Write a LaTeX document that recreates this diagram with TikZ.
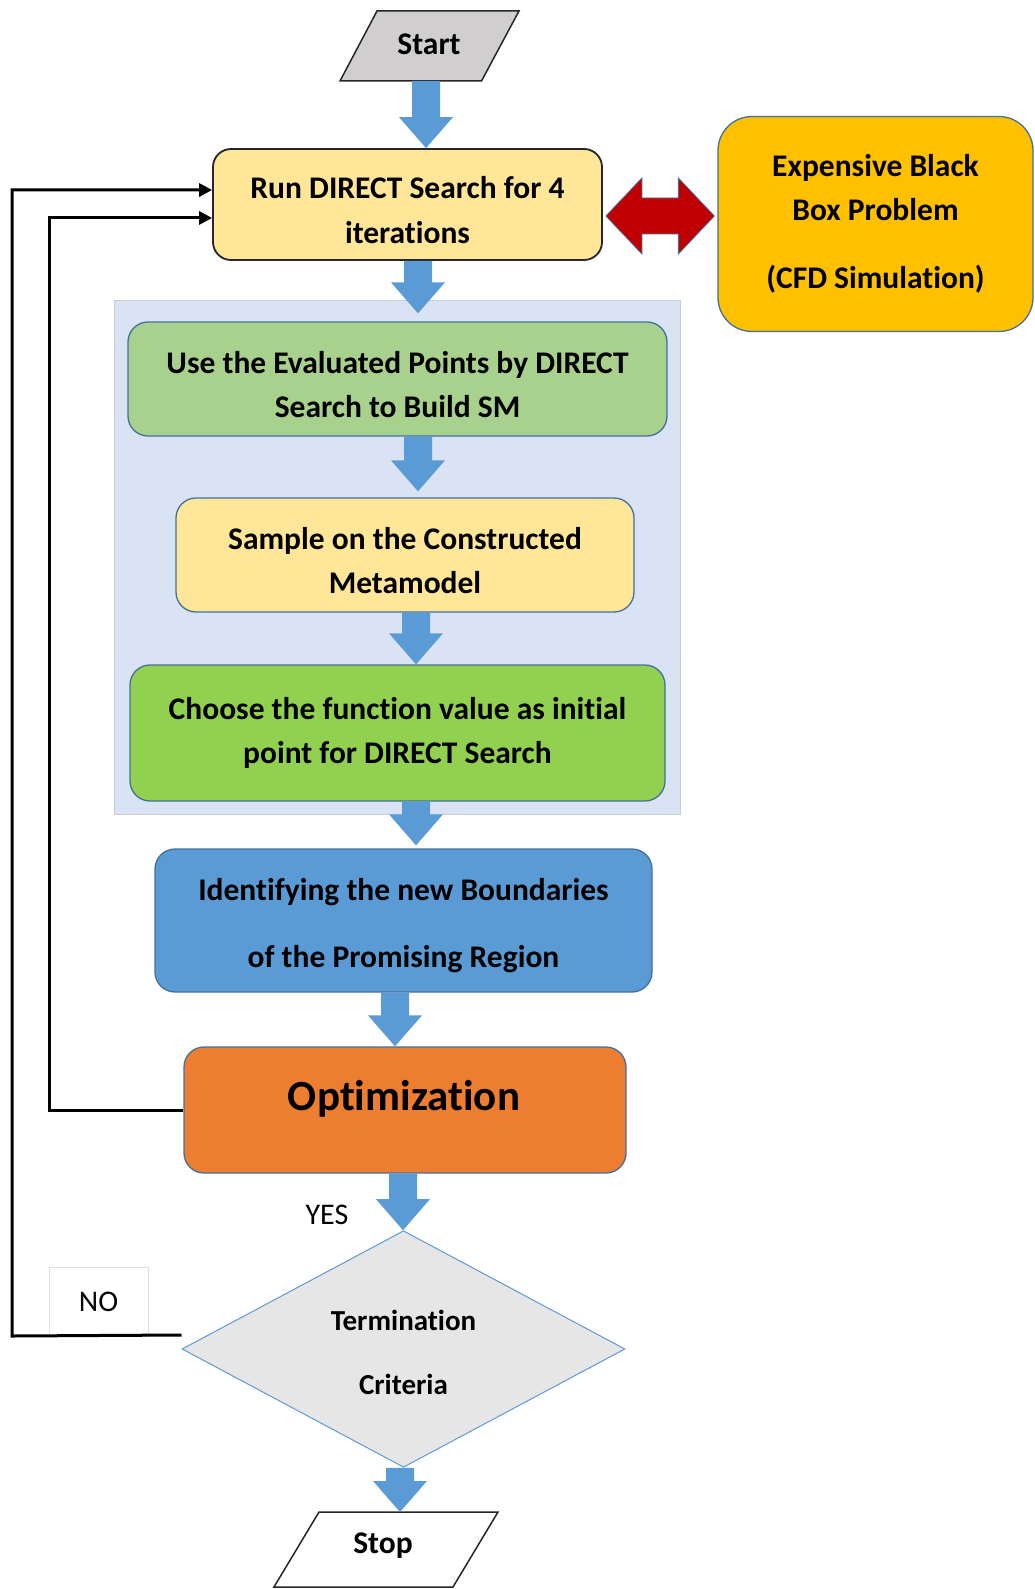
\documentclass[tikz,border=0pt]{standalone}
\usepackage{fontspec}
\setmainfont[Ligatures=NoCommon]{Carlito}
\usetikzlibrary{shapes.geometric,arrows.meta,calc}

\definecolor{flowblue}{HTML}{5B9BD5}
\definecolor{boxedge}{HTML}{41719C}
\definecolor{darkedge}{HTML}{262626}
\definecolor{paleyellow}{HTML}{FFE699}
\definecolor{gold}{HTML}{FFC000}
\definecolor{palegreen}{HTML}{A9D18E}
\definecolor{limegreen}{HTML}{92D050}
\definecolor{orangebox}{HTML}{ED7D31}
\definecolor{lightgrey}{HTML}{E7E6E6}
\definecolor{midgrey}{HTML}{D0CECE}
\definecolor{panelfill}{HTML}{DAE3F3}
\definecolor{panelline}{HTML}{C9CED6}
\definecolor{darkred}{HTML}{C00000}

\newcommand\bodyfont{\fontsize{31.5}{44.5}\selectfont\bfseries}
% a tall invisible strut that sets the text block a little lower in its box
\newcommand\lowstrut{\rule{0pt}{33pt}}

% wide blue block arrow: #1 gives the x position, #2 the start, #3 the tip
\newcommand\flowarrow[3]{%
  \fill[flowblue] let \p1=#1, \p2=#2, \p3=#3 in
    (\x1-14pt,\y2) -- (\x1+14pt,\y2) -- (\x1+14pt,\y3+31pt) -- (\x1+27pt,\y3+31pt)
    -- (\x1,\y3) -- (\x1-27pt,\y3+31pt) -- (\x1-14pt,\y3+31pt) -- cycle;}

\begin{document}
\begin{tikzpicture}[x=1pt,y=-1pt,
  box/.style={rounded corners=20pt, draw=boxedge, line width=1.3pt, align=center,
    inner sep=0pt, font=\bodyfont},
  plainlabel/.style={inner sep=0pt, font=\fontsize{30}{36}\selectfont},
  loopline/.style={line width=3pt, black, -{Triangle[length=13pt,width=13pt]}}]
\useasboundingbox (0,0) rectangle (1034,1589);

% start terminal
\filldraw[fill=midgrey, draw=darkedge, line width=1.5pt]
  (340,81) -- (377,11) -- (519,11) -- (481.5,81) -- cycle;
\node[inner sep=0pt, font=\bodyfont] (start) at (429,44) {Start};
\coordinate (startbase) at (429,81);

% first DIRECT run and the simulation it calls
\node[box, fill=paleyellow, draw=darkedge, line width=1.8pt, rounded corners=18pt,
  minimum width=389, minimum height=111] (run) at (407.5,204.5)
  {\lowstrut Run DIRECT Search for 4\\iterations};
\node[box, fill=gold, rounded corners=34pt, minimum width=315, minimum height=215]
  (exp) at (875.5,224) {Expensive Black\\Box Problem\\[23.5pt](CFD Simulation)};

\coordinate (dblmid) at (660,216);
\filldraw[fill=darkred, draw=boxedge, line width=0.8pt]
  let \p1=([xshift=3pt]run.east), \p2=([xshift=-3pt]exp.west), \p3=(dblmid) in
  (\x1,\y3) -- (\x1+36pt,\y3+38pt) -- (\x1+36pt,\y3+18pt) -- (\x2-36pt,\y3+18pt)
  -- (\x2-36pt,\y3+38pt) -- (\x2,\y3) -- (\x2-36pt,\y3-38pt) -- (\x2-36pt,\y3-18pt)
  -- (\x1+36pt,\y3-18pt) -- (\x1+36pt,\y3-38pt) -- cycle;

% metamodel stage
\node[draw=panelline, fill=panelfill, line width=1pt, inner sep=0pt,
  minimum width=566, minimum height=514] (panel) at (397,557) {};
\node[box, fill=palegreen, minimum width=539, minimum height=114] (use) at (397.5,379)
  {\lowstrut Use the Evaluated Points by DIRECT\\Search to Build SM};
\node[box, fill=paleyellow, minimum width=458, minimum height=114] (sample) at (405,555)
  {\lowstrut Sample on the Constructed\\Metamodel};
\node[box, fill=limegreen, minimum width=535, minimum height=136] (choose) at (397.5,733)
  {Choose the function value as initial\\point for DIRECT Search};

% boundary update and optimization
\node[box, fill=flowblue, minimum width=497, minimum height=143] (ident) at (403.5,920.5)
  {\lowstrut Identifying the new Boundaries\\[22.5pt]of the Promising Region};
\node[box, fill=orangebox, minimum width=442, minimum height=126] (opt) at (405,1110) {};
\node[inner sep=0pt, font=\fontsize{43}{50}\selectfont\bfseries] (opttext) at (404,1099)
  {Optimization};

% termination test
\node[diamond, fill=lightgrey, draw=flowblue, line width=1pt, inner sep=0pt,
  minimum width=443, minimum height=236, align=center,
  font=\fontsize{29}{41}\selectfont\bfseries] (term) at (403.5,1349)
  {\rule{0pt}{27pt}Termination\\[23pt]Criteria};

% stop terminal
\filldraw[fill=white, draw=darkedge, line width=1.5pt]
  (274,1587) -- (319,1512) -- (498,1512) -- (453,1587) -- cycle;
\node[inner sep=0pt, font=\bodyfont] (stop) at (383,1546) {Stop};
\coordinate (stoptop) at (400,1512);

% branch labels
\node[plainlabel] (yes) at (327,1214.5) {YES};
\node[draw=gray!25, fill=white, line width=0.8pt, minimum width=99, minimum height=69,
  plainlabel] (no) at (98.5,1301.5) {NO};

% flow between the steps
\flowarrow{(426,0)}{(startbase)}{(run.north)}
\flowarrow{(418,0)}{(run.south)}{([yshift=8pt]use.north)}
\flowarrow{(418,0)}{(use.south)}{([yshift=6pt]sample.north)}
\flowarrow{(416,0)}{(sample.south)}{(choose.north)}
\flowarrow{(416,0)}{(choose.south)}{([yshift=3pt]ident.north)}
\flowarrow{(395,0)}{(ident.south)}{(opt.north)}
\flowarrow{(403,0)}{(opt.south)}{(term.north)}
\flowarrow{(400,0)}{(term.south)}{(stoptop)}

% feedback loops back to the DIRECT run
\coordinate (outerlow) at (12,1336);
\coordinate (outerhigh) at (12,190);
\draw[loopline] ([yshift=14pt]term.west) -- (outerlow) -- (outerhigh) -- (outerhigh -| run.west);
\coordinate (innerhigh) at (49,218);
\draw[loopline] (opt.west) -- (opt.west -| innerhigh) -- (innerhigh) -- (innerhigh -| run.west);
\end{tikzpicture}
\end{document}
